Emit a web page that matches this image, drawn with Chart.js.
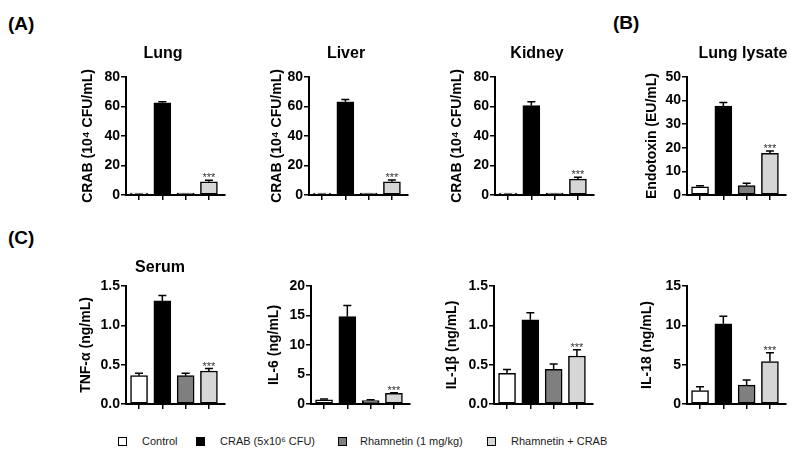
<!DOCTYPE html>
<html>
<head>
<meta charset="utf-8">
<script src="https://cdn.jsdelivr.net/npm/chart.js@4.4.0/dist/chart.umd.min.js"></script>
<style>
  html, body { margin:0; padding:0; background:#fff; }
  body { width:796px; height:459px; position:relative; overflow:hidden; font-family:"Liberation Sans", Arial, sans-serif; }
  canvas { position:absolute; }
  .letter { position:absolute; font-weight:bold; font-size:19px; line-height:20px; color:#000; }
  .sw { position:absolute; width:9px; height:9px; box-sizing:border-box; border:1px solid #000; }
  .lt { position:absolute; font-size:11px; line-height:13px; color:#1a1a1a; white-space:nowrap; }
</style>
</head>
<body>
<div class="letter" style="left:8px;top:14px;">(A)</div>
<div class="letter" style="left:613px;top:13px;">(B)</div>
<div class="letter" style="left:8px;top:228px;">(C)</div>
<div id="legend"></div>
<script>
// ---------------- DATA ----------------
const groups = ['Control', 'CRAB (5x10\u2076 CFU)', 'Rhamnetin (1 mg/kg)', 'Rhamnetin + CRAB'];
const sigMarks = ['', '', '', '***'];

const lungCFU       = [0.3, 62.5, 0.2, 9.0];
const lungCFUErr    = [0.2, 0.8, 0.1, 1.0];
const liverCFU      = [0.3, 63.2, 0.2, 9.0];
const liverCFUErr   = [0.2, 1.6, 0.1, 1.1];
const kidneyCFU     = [0.3, 60.7, 0.2, 10.8];
const kidneyCFUErr  = [0.2, 2.5, 0.1, 1.2];
const lungEndotoxin    = [3.5, 37.7, 4.0, 17.7];
const lungEndotoxinErr = [0.4, 1.5, 1.0, 0.9];
const serumTNF      = [0.36, 1.31, 0.36, 0.42];
const serumTNFErr   = [0.03, 0.07, 0.03, 0.03];
const serumIL6      = [0.7, 14.8, 0.6, 1.8];
const serumIL6Err   = [0.15, 1.9, 0.1, 0.12];
const serumIL1b     = [0.39, 1.07, 0.44, 0.61];
const serumIL1bErr  = [0.05, 0.09, 0.07, 0.08];
const serumIL18     = [1.7, 10.2, 2.4, 5.4];
const serumIL18Err  = [0.5, 0.95, 0.65, 1.1];

const cfuTicks       = [0, 20, 40, 60, 80];
const endotoxinTicks = [0, 10, 20, 30, 40, 50];
const tnfTicks       = [0, 0.5, 1.0, 1.5];
const il6Ticks       = [0, 5, 10, 15, 20];
const il1bTicks      = [0, 0.5, 1.0, 1.5];
const il18Ticks      = [0, 5, 10, 15];

// ---------------- STYLE / LAYOUT ----------------
const groupColors = ['#ffffff', '#000000', '#7f7f7f', '#d6d6d6'];
const FONT = '"Liberation Sans", Arial, sans-serif';
Chart.defaults.font.family = FONT;
Chart.defaults.color = '#000';

const rows = [
  { canvasTop: 30,  areaTop: 77,  areaBottom: 195, height: 177, titleBase: 57.5 },
  { canvasTop: 250, areaTop: 286, areaBottom: 404, height: 166, titleBase: 271.5 }
];

const panels = [
  { title:'Lung',        yTitle:'CRAB (10\u2074 CFU/mL)', values:lungCFU,       errors:lungCFUErr,       ticks:cfuTicks,       dec:0, row:0, axisX:126, yTitleX:88,  titleX:163 },
  { title:'Liver',       yTitle:'CRAB (10\u2074 CFU/mL)', values:liverCFU,      errors:liverCFUErr,      ticks:cfuTicks,       dec:0, row:0, axisX:309, yTitleX:277, titleX:346 },
  { title:'Kidney',      yTitle:'CRAB (10\u2074 CFU/mL)', values:kidneyCFU,     errors:kidneyCFUErr,     ticks:cfuTicks,       dec:0, row:0, axisX:495, yTitleX:457, titleX:537 },
  { title:'Lung lysate', yTitle:'Endotoxin (EU/mL)',      values:lungEndotoxin, errors:lungEndotoxinErr, ticks:endotoxinTicks, dec:0, row:0, axisX:687, yTitleX:652, titleX:743 },
  { title:'Serum',       yTitle:'TNF-\u03b1 (ng/mL)',     values:serumTNF,      errors:serumTNFErr,      ticks:tnfTicks,       dec:1, row:1, axisX:126, yTitleX:86,  titleX:160 },
  { title:'',            yTitle:'IL-6 (ng/mL)',           values:serumIL6,      errors:serumIL6Err,      ticks:il6Ticks,       dec:0, row:1, axisX:311, yTitleX:274, titleX:0 },
  { title:'',            yTitle:'IL-1\u03b2 (ng/mL)',     values:serumIL1b,     errors:serumIL1bErr,     ticks:il1bTicks,      dec:1, row:1, axisX:494, yTitleX:452, titleX:0 },
  { title:'',            yTitle:'IL-18 (ng/mL)',          values:serumIL18,     errors:serumIL18Err,     ticks:il18Ticks,      dec:0, row:1, axisX:687, yTitleX:647, titleX:0 }
];

const AREA_W = 99, PAD_R = 6, PAD_B = 4, X_AXIS_H = 8, YT_HALF = 8.4;

function errorBarPlugin(errors, marks) {
  return {
    id: 'errorBars',
    afterDatasetsDraw(chart) {
      const meta = chart.getDatasetMeta(0);
      const ds = chart.data.datasets[0];
      const ys = chart.scales.y;
      const ctx = chart.ctx;
      ctx.save();
      ctx.strokeStyle = '#000';
      ctx.lineWidth = 1.5;
      meta.data.forEach((bar, i) => {
        const v = ds.data[i].y;
        const yBase = ys.getPixelForValue(v);
        const yTop = ys.getPixelForValue(v + errors[i]);
        ctx.beginPath();
        ctx.moveTo(bar.x, yBase);
        ctx.lineTo(bar.x, yTop);
        ctx.moveTo(bar.x - 4, yTop);
        ctx.lineTo(bar.x + 4, yTop);
        ctx.stroke();
        if (marks[i]) {
          ctx.fillStyle = '#333';
          ctx.font = '11px ' + FONT;
          ctx.textAlign = 'center';
          ctx.textBaseline = 'alphabetic';
          ctx.fillText(marks[i], bar.x, yTop + 1);
        }
      });
      ctx.restore();
    }
  };
}

function titlePlugin(text, x, y) {
  return {
    id: 'panelTitle',
    afterDraw(chart) {
      if (!text) return;
      const ctx = chart.ctx;
      ctx.save();
      ctx.font = 'bold 16px ' + FONT;
      ctx.fillStyle = '#000';
      ctx.textAlign = 'center';
      ctx.textBaseline = 'alphabetic';
      ctx.fillText(text, x, y);
      ctx.restore();
    }
  };
}

panels.forEach(p => {
  const r = rows[p.row];
  const L = Math.round(p.yTitleX - YT_HALF);
  const yW = p.axisX - L;
  const W = yW + AREA_W + PAD_R;
  const canvas = document.createElement('canvas');
  canvas.width = W;
  canvas.height = r.height;
  canvas.style.left = L + 'px';
  canvas.style.top = r.canvasTop + 'px';
  canvas.style.width = W + 'px';
  canvas.style.height = r.height + 'px';
  document.body.appendChild(canvas);

  new Chart(canvas, {
    type: 'bar',
    data: {
      datasets: [{
        data: p.values.map((v, i) => ({ x: i, y: v })),
        backgroundColor: groupColors,
        borderColor: '#000',
        borderWidth: 1.5,
        borderSkipped: false,
        barThickness: 17,
        minBarLength: 2
      }]
    },
    options: {
      responsive: false,
      animation: false,
      events: [],
      layout: { padding: { left: 0, right: PAD_R, top: r.areaTop - r.canvasTop, bottom: PAD_B } },
      plugins: { legend: { display: false }, tooltip: { enabled: false } },
      scales: {
        x: {
          type: 'linear',
          offset: false,
          min: -0.56,
          max: 3.69,
          afterBuildTicks: s => { s.ticks = groups.map((g, i) => ({ value: i })); },
          afterFit: s => { s.height = X_AXIS_H; },
          ticks: { display: false },
          grid: { display: true, drawOnChartArea: false, drawTicks: true, tickLength: 5, color: '#000', lineWidth: 1.5, offset: false },
          border: { display: true, color: '#000', width: 2 }
        },
        y: {
          min: 0,
          max: p.ticks[p.ticks.length - 1],
          afterBuildTicks: s => { s.ticks = p.ticks.map(v => ({ value: v })); },
          afterFit: s => { s.width = yW; },
          ticks: { color: '#000', font: { size: 14, weight: 'bold' }, padding: 1, callback: v => Number(v).toFixed(p.dec) },
          grid: { display: true, drawOnChartArea: false, drawTicks: true, tickLength: 5, color: '#000', lineWidth: 1.5 },
          border: { display: true, color: '#000', width: 2 },
          title: { display: true, text: p.yTitle, color: '#000', font: { size: 14, weight: 'bold', lineHeight: 1.2 }, padding: 0 }
        }
      }
    },
    plugins: [errorBarPlugin(p.errors, sigMarks), titlePlugin(p.title, p.titleX - L, r.titleBase - r.canvasTop)]
  });
});

// ---------------- LEGEND ----------------
const legendSwatchX = [118, 196, 338, 487];
const legendTextX = [142, 220, 360, 511];
const legend = document.getElementById('legend');
groups.forEach((g, i) => {
  const sw = document.createElement('div');
  sw.className = 'sw';
  sw.style.left = legendSwatchX[i] + 'px';
  sw.style.top = '437px';
  sw.style.background = groupColors[i];
  legend.appendChild(sw);
  const t = document.createElement('div');
  t.className = 'lt';
  t.style.left = legendTextX[i] + 'px';
  t.style.top = '435px';
  t.textContent = g;
  legend.appendChild(t);
});
</script>
</body>
</html>
